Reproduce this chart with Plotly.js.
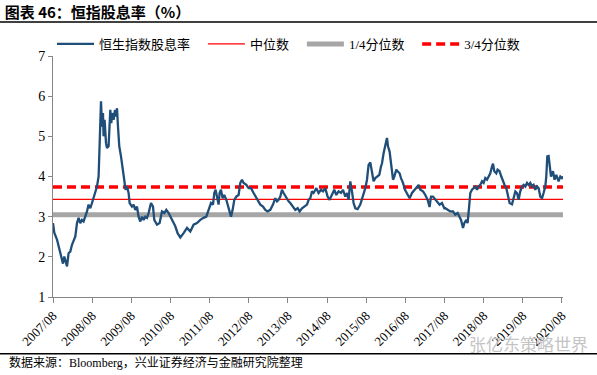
<!DOCTYPE html>
<html>
<head>
<meta charset="utf-8">
<script src="https://cdn.plot.ly/plotly-3.0.1.min.js"></script>
<style>html,body{margin:0;padding:0;background:#fff;}#chart{width:597px;height:375px;}</style>
</head>
<body>
<div id="chart"></div>
<script>
// Dates as decimal years (2007/08 = 2007.583)
var dates = [
2007.583,2007.616,2007.685,2007.726,2007.787,2007.838,2007.872,2007.923,2007.941,2007.981,
2008.025,2008.068,2008.109,2008.153,2008.196,2008.237,2008.280,2008.324,2008.365,2008.408,
2008.451,2008.492,2008.536,2008.579,2008.620,2008.663,2008.707,2008.748,2008.773,2008.809,
2008.835,2008.860,2008.875,2008.901,2008.937,2008.962,2009.003,2009.029,2009.047,2009.072,
2009.098,2009.131,2009.167,2009.200,2009.218,2009.243,2009.276,2009.320,2009.345,2009.371,
2009.404,2009.437,2009.473,2009.514,2009.540,2009.601,2009.642,2009.685,2009.729,2009.769,
2009.813,2009.856,2009.897,2009.941,2009.984,2010.025,2010.086,2010.137,2010.170,2010.239,
2010.306,2010.367,2010.426,2010.477,2010.536,2010.623,2010.707,2010.766,2010.835,2010.919,
2011.006,2011.090,2011.174,2011.261,2011.345,2011.430,2011.499,2011.558,2011.619,2011.670,
2011.703,2011.736,2011.772,2011.813,2011.838,2011.874,2011.915,2011.958,2012.010,2012.053,
2012.094,2012.130,2012.171,2012.214,2012.265,2012.324,2012.367,2012.411,2012.452,2012.521,
2012.579,2012.641,2012.707,2012.776,2012.835,2012.878,2012.947,2013.006,2013.064,2013.133,
2013.202,2013.261,2013.305,2013.345,2013.389,2013.432,2013.473,2013.542,2013.601,2013.644,
2013.703,2013.772,2013.831,2013.882,2013.943,2014.002,2014.071,2014.112,2014.155,2014.199,
2014.239,2014.310,2014.367,2014.429,2014.480,2014.538,2014.597,2014.648,2014.710,2014.768,
2014.819,2014.878,2014.940,2014.990,2015.049,2015.093,2015.133,2015.177,2015.220,2015.261,
2015.305,2015.363,2015.432,2015.501,2015.560,2015.603,2015.644,2015.688,2015.731,2015.772,
2015.816,2015.859,2015.918,2015.961,2015.987,2016.027,2016.071,2016.114,2016.140,2016.181,
2016.217,2016.268,2016.301,2016.352,2016.385,2016.436,2016.472,2016.523,2016.574,2016.625,
2016.692,2016.753,2016.812,2016.863,2016.922,2016.965,2017.034,2017.093,2017.151,2017.202,
2017.238,2017.289,2017.348,2017.407,2017.458,2017.519,2017.578,2017.604,2017.662,2017.731,
2017.800,2017.859,2017.918,2017.969,2018.005,2018.056,2018.089,2018.140,2018.173,2018.209,
2018.242,2018.285,2018.326,2018.370,2018.413,2018.454,2018.497,2018.541,2018.582,2018.625,
2018.669,2018.709,2018.753,2018.796,2018.822,2018.855,2018.906,2018.939,2018.990,2019.034,
2019.077,2019.118,2019.162,2019.205,2019.246,2019.307,2019.348,2019.392,2019.435,2019.476,
2019.519,2019.563,2019.604,2019.647,2019.691,2019.731,2019.775,2019.818,2019.859,2019.903,
2019.946,2019.987,2020.030,2020.074,2020.114,2020.158,2020.183,2020.209,2020.242,2020.268,
2020.303,2020.354,2020.395,2020.439,2020.497,2020.541,2020.584,2020.626
];
var dividendYield = [
2.84,2.60,2.43,2.26,2.01,1.83,2.01,1.80,1.76,2.09,
2.13,2.30,2.43,2.51,2.84,2.97,2.84,2.92,2.88,3.00,
3.13,3.30,3.21,3.34,3.46,3.59,3.75,4.00,4.75,5.87,
5.24,5.58,5.00,5.41,4.83,4.71,4.75,5.24,5.66,5.33,
5.58,5.41,5.66,5.49,5.70,5.24,4.75,4.50,4.33,4.17,
4.00,3.67,3.75,3.59,3.34,3.25,3.30,3.17,3.25,3.00,
2.88,3.00,2.92,3.00,2.97,3.09,3.34,3.25,2.92,2.80,
2.84,3.13,3.09,3.17,3.09,2.92,2.76,2.59,2.48,2.59,
2.72,2.63,2.80,2.84,2.92,2.97,3.00,3.17,3.34,3.30,
3.59,3.67,3.46,3.30,3.59,3.67,3.46,3.54,3.42,3.25,
3.13,3.00,3.17,3.42,3.50,3.54,3.84,3.92,3.84,3.79,
3.71,3.71,3.59,3.46,3.38,3.30,3.25,3.17,3.13,3.17,
3.30,3.46,3.38,3.42,3.50,3.67,3.59,3.46,3.38,3.34,
3.25,3.17,3.21,3.13,3.21,3.25,3.30,3.42,3.46,3.63,
3.59,3.71,3.59,3.67,3.63,3.71,3.50,3.42,3.54,3.67,
3.54,3.63,3.59,3.67,3.50,3.59,3.42,3.88,3.63,3.34,
3.21,3.19,3.30,3.50,3.71,3.92,4.29,4.35,4.08,3.88,
3.96,4.00,4.04,4.25,4.33,4.58,4.79,4.96,4.75,4.62,
4.33,3.92,4.00,4.17,4.13,4.08,3.96,3.84,3.67,3.59,
3.46,3.59,3.67,3.71,3.79,3.67,3.63,3.54,3.42,3.24,
3.50,3.50,3.42,3.34,3.30,3.34,3.21,3.21,3.17,3.13,
3.13,3.05,3.09,2.97,2.92,2.72,2.84,2.92,2.84,3.21,
3.59,3.67,3.71,3.75,3.67,3.75,3.79,3.88,3.84,3.96,
3.92,4.00,4.08,4.25,4.32,4.13,4.08,4.17,4.13,4.00,
3.88,3.79,3.71,3.50,3.34,3.31,3.50,3.63,3.59,3.42,
3.63,3.75,3.79,3.75,3.84,3.79,3.84,3.75,3.79,3.67,
3.75,3.71,3.50,3.46,3.59,3.75,4.00,4.50,4.51,4.25,
4.00,4.13,3.92,4.04,3.88,4.00,3.96,4.00
];
var medianValue = 3.43;
var q1Value = 3.05;
var q3Value = 3.74;
var tickLabels = ['2007/08','2008/08','2009/08','2010/08','2011/08','2012/08','2013/08',
                  '2014/08','2015/08','2016/08','2017/08','2018/08','2019/08','2020/08'];
var seriesNames = ['恒生指数股息率','中位数','1/4分位数','3/4分位数'];

var tickVals = tickLabels.map(function(s){ return parseInt(s.slice(0,4),10) + (parseInt(s.slice(5),10)-1)/12; });
var xEnds = [dates[0], dates[dates.length-1]];

var serif = "'Liberation Serif','Noto Sans CJK SC',serif";
var axisGray = '#868686';

var traces = [
  {x: dates, y: dividendYield, type:'scatter', mode:'lines', name: seriesNames[0],
   line:{color:'#1F4E79', width:2.3}, legend:'legend'},
  {x: xEnds, y: [medianValue, medianValue], type:'scatter', mode:'lines', name: seriesNames[1],
   line:{color:'#FF0000', width:1.3}, legend:'legend2'},
  {x: xEnds, y: [q1Value, q1Value], type:'scatter', mode:'lines', name: seriesNames[2],
   line:{color:'#A6A6A6', width:5}, legend:'legend3'},
  {x: xEnds, y: [q3Value, q3Value], type:'scatter', mode:'lines', name: seriesNames[3],
   line:{color:'#FF0000', width:3.5, dash:'9px,5px'}, legend:'legend4'}
];
// draw order: quartile bands below the series
traces = [traces[2], traces[1], traces[3], traces[0]];

function leg(x){
  return {x:x, y:1.05, xanchor:'left', yanchor:'middle', orientation:'h',
          bgcolor:'rgba(0,0,0,0)', font:{family:serif, size:13, color:'#000'}, itemwidth:37};
}

var layout = {
  width:597, height:375,
  margin:{l:53, r:34, t:56, b:78},
  paper_bgcolor:'#fff', plot_bgcolor:'#fff',
  title:{text:'<b>图表 46：恒指股息率（%）</b>', xref:'container', yref:'container',
         x:0.008, xanchor:'left', y:0.965, yanchor:'middle',
         font:{family:"'Noto Sans CJK SC',sans-serif", size:15, color:'#000'}},
  showlegend:true,
  legend: leg(-0.002),
  legend2: leg(0.294),
  legend3: leg(0.488),
  legend4: leg(0.714),
  xaxis:{type:'linear', range:[2007.583, 2020.61], tickmode:'array', tickvals:tickVals, ticktext:tickLabels,
         tickangle:-45, ticks:'outside', ticklen:5, tickcolor:axisGray, showline:true, linecolor:axisGray,
         linewidth:1, showgrid:false, zeroline:false, tickfont:{family:serif, size:13, color:'#000'}},
  yaxis:{range:[1,7], dtick:1, tick0:1, ticks:'outside', ticklen:4, tickcolor:axisGray, showline:true,
         linecolor:axisGray, linewidth:1, showgrid:false, zeroline:false,
         tickfont:{family:serif, size:14, color:'#000'}},
  shapes:[
    {type:'line', xref:'paper', yref:'paper', x0:-0.104, x1:1.067, y0:1.141, y1:1.141, line:{color:'#000', width:1.5}},
    {type:'line', xref:'paper', yref:'paper', x0:-0.104, x1:1.067, y0:-0.235, y1:-0.235, line:{color:'#000', width:1.5}}
  ],
  annotations:[
    {text:'数据来源：Bloomberg，兴业证券经济与金融研究院整理', xref:'paper', yref:'paper',
     x:-0.09, y:-0.272, xanchor:'left', yanchor:'middle', showarrow:false,
     font:{family:serif, size:12, color:'#000'}},
    {text:'张亿东策略世界', xref:'paper', yref:'paper', x:1.053, y:-0.195, xanchor:'right', yanchor:'middle',
     showarrow:false, font:{family:"'Noto Sans CJK SC',sans-serif", size:17, color:'#C4C4C4'}}
  ]
};

Plotly.newPlot('chart', traces, layout, {staticPlot:true, displayModeBar:false});
</script>
</body>
</html>
